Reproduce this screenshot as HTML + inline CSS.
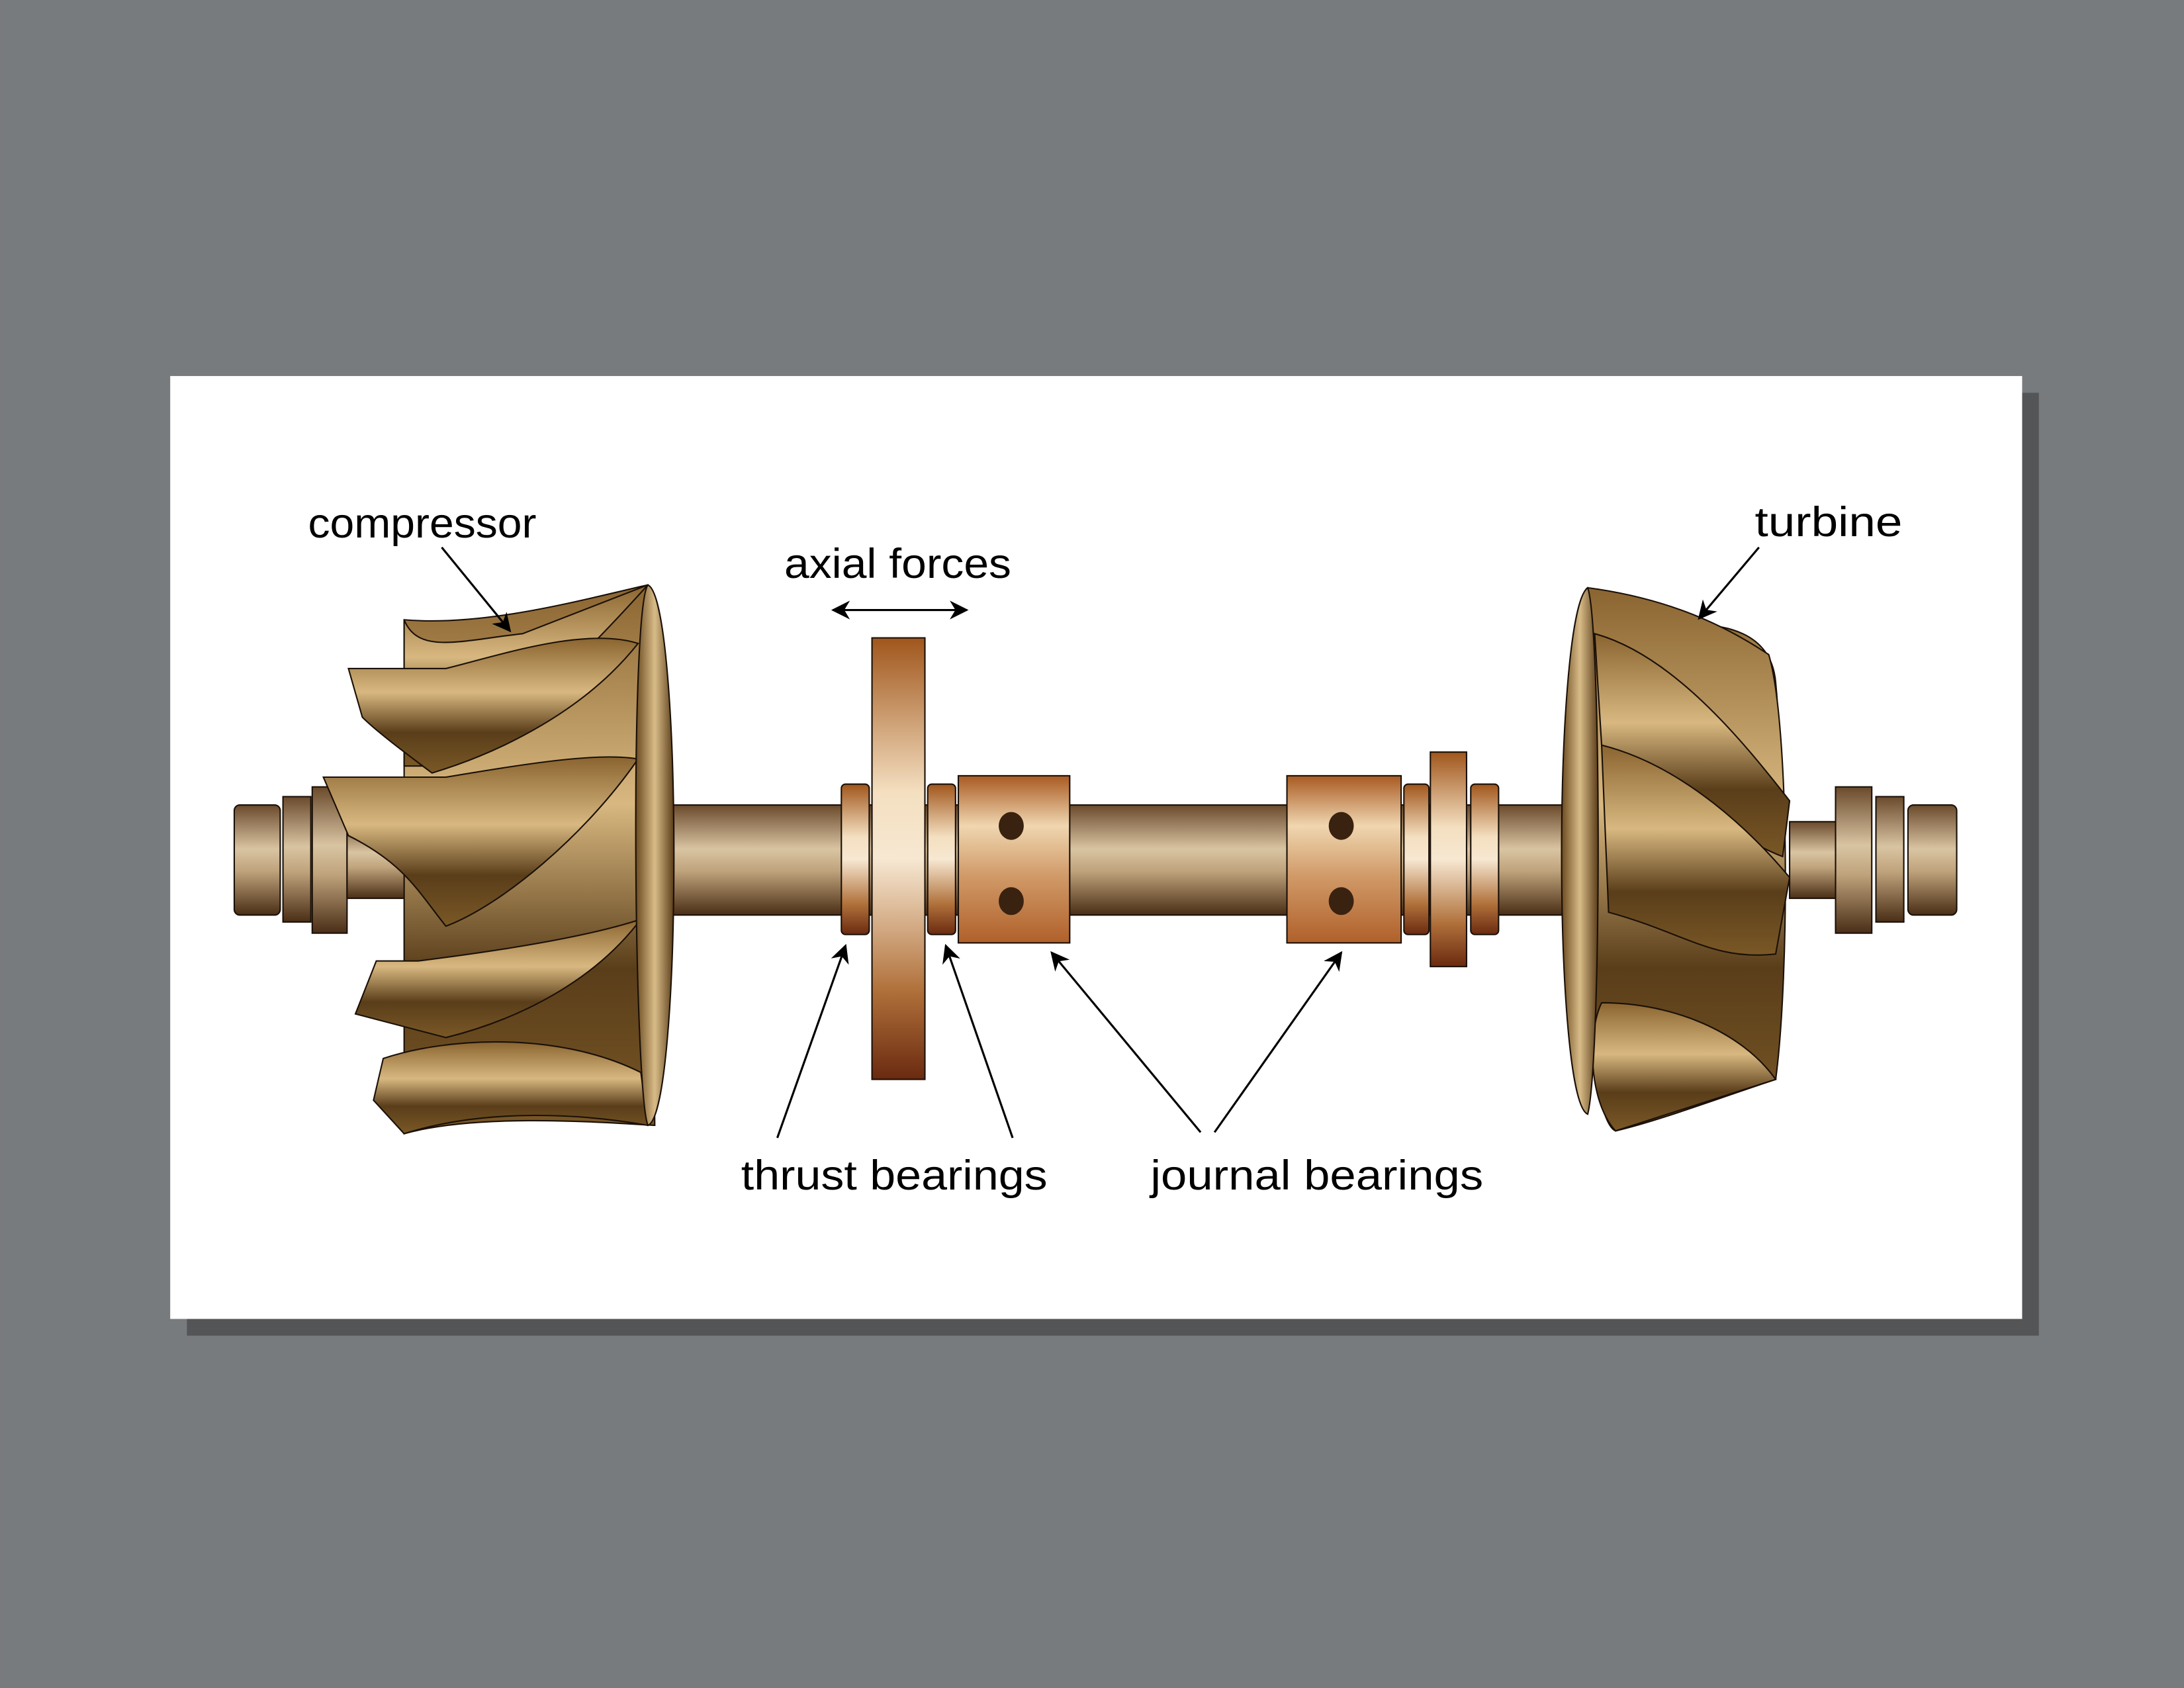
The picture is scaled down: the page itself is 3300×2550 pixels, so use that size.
<!DOCTYPE html>
<html><head><meta charset="utf-8"><style>html,body{margin:0;padding:0;background:#787b7e}svg{display:block}</style></head><body>
<svg width="3300" height="2550" viewBox="0 0 1568 1212" xmlns="http://www.w3.org/2000/svg" font-family="Liberation Sans, sans-serif">
<defs>
<linearGradient id="sh" x1="0" y1="0" x2="0" y2="1"><stop offset="0" stop-color="#6a4a2c"/><stop offset="0.4" stop-color="#d9c4a2"/><stop offset="0.6" stop-color="#bfa37c"/><stop offset="1" stop-color="#4a2e16"/></linearGradient>
<linearGradient id="cu" x1="0" y1="0" x2="0" y2="1"><stop offset="0" stop-color="#a0561c"/><stop offset="0.35" stop-color="#f4dfc0"/><stop offset="0.5" stop-color="#f7e8d2"/><stop offset="0.8" stop-color="#b0703a"/><stop offset="1" stop-color="#6a2a10"/></linearGradient>
<linearGradient id="jb" x1="0" y1="0" x2="0" y2="1"><stop offset="0" stop-color="#a85a22"/><stop offset="0.3" stop-color="#f0d6b0"/><stop offset="0.6" stop-color="#d09a68"/><stop offset="1" stop-color="#b0602a"/></linearGradient>
<linearGradient id="bl" x1="0" y1="0" x2="0" y2="1"><stop offset="0" stop-color="#8a6430"/><stop offset="0.4" stop-color="#d8b880"/><stop offset="0.7" stop-color="#5a3e1a"/><stop offset="1" stop-color="#7a5826"/></linearGradient>
<linearGradient id="bh" x1="0" y1="0" x2="1" y2="0"><stop offset="0" stop-color="#6a4a20"/><stop offset="0.5" stop-color="#d8bc88"/><stop offset="1" stop-color="#5a3c18"/></linearGradient>
<marker id="a" viewBox="0 0 10 10" refX="9" refY="5" markerWidth="9" markerHeight="9" orient="auto-start-reverse"><path d="M0,0 L10,5 L0,10 L3,5z" fill="#000"/></marker>
</defs>
<rect width="1568" height="1212" fill="#787b7e"/>
<rect x="134" y="282" width="1330" height="677" fill="#3a3c3e" opacity="0.6"/>
<rect x="122" y="270" width="1330" height="677" fill="#fff"/>
<g stroke="#1a1008" stroke-width="1">
<rect x="168" y="578" width="33" height="79" rx="4" fill="url(#sh)"/>
<rect x="203" y="572" width="20" height="90" fill="url(#sh)"/>
<rect x="224" y="565" width="25" height="105" fill="url(#sh)"/>
<rect x="249" y="590" width="45" height="55" fill="url(#sh)"/>
<rect x="466" y="578" width="674" height="79" fill="url(#sh)"/>
<path d="M290,445 C350,450 420,430 465,420 L470,808 C420,805 340,800 290,814 Z" fill="url(#bl)"/>
<path d="M290,445 C300,470 330,460 375,455 L465,420 C420,470 370,520 320,550 L290,550 Z" fill="url(#bl)"/>
<path d="M250,480 L320,480 C360,470 420,450 458,462 C420,510 360,540 310,555 C290,540 270,525 260,515 Z" fill="url(#bl)"/>
<path d="M232,558 L320,558 C380,548 430,540 458,545 C420,600 360,650 320,665 C300,640 290,620 250,600 Z" fill="url(#bl)"/>
<path d="M270,690 L300,690 C380,680 430,670 460,660 C430,700 380,730 320,745 L255,728 Z" fill="url(#bl)"/>
<path d="M275,760 C320,745 400,740 460,770 L465,808 C420,800 350,795 290,814 L268,790 Z" fill="url(#bl)"/>
<path d="M465,420 C490,430 490,800 465,808 C455,780 452,440 465,420 Z" fill="url(#bh)"/>
<rect x="604" y="563" width="20" height="108" rx="3" fill="url(#cu)"/>
<rect x="626" y="458" width="38" height="317" fill="url(#cu)"/>
<rect x="666" y="563" width="20" height="108" rx="3" fill="url(#cu)"/>
<rect x="688" y="557" width="80" height="120" fill="url(#jb)"/>
<rect x="924" y="557" width="82" height="120" fill="url(#jb)"/>
<rect x="1008" y="563" width="18" height="108" rx="3" fill="url(#cu)"/>
<rect x="1027" y="540" width="26" height="154" fill="url(#cu)"/>
<rect x="1056" y="563" width="20" height="108" rx="3" fill="url(#cu)"/>
<!-- turbine -->
<path d="M1200,450 C1240,445 1272,455 1275,490 C1278,520 1277,545 1272,560 L1240,560 L1200,470 Z" fill="url(#bl)"/>
<path d="M1225,690 L1270,682 C1280,700 1278,740 1275,775 L1230,775 Z" fill="url(#bl)"/>
<path d="M1140,422 C1200,430 1240,450 1270,470 C1285,520 1285,700 1275,775 C1230,790 1190,805 1160,812 C1130,800 1122,430 1140,422 Z" fill="url(#bl)"/>
<path d="M1145,455 C1200,470 1250,530 1285,575 L1280,615 C1240,600 1200,560 1150,535 Z" fill="url(#bl)"/>
<path d="M1150,535 C1210,550 1260,600 1285,630 L1275,685 C1230,690 1210,670 1155,655 Z" fill="url(#bl)"/>
<path d="M1150,720 C1200,720 1250,740 1275,775 L1160,812 C1140,790 1140,740 1150,720 Z" fill="url(#bl)"/>
<path d="M1140,422 C1115,440 1115,790 1140,800 C1150,760 1150,450 1140,422 Z" fill="url(#bh)"/>
<rect x="1285" y="590" width="35" height="55" fill="url(#sh)"/>
<rect x="1318" y="565" width="26" height="105" fill="url(#sh)"/>
<rect x="1347" y="572" width="20" height="90" fill="url(#sh)"/>
<rect x="1370" y="578" width="35" height="79" rx="4" fill="url(#sh)"/>
</g>
<g fill="#3a2210">
<ellipse cx="726" cy="593" rx="9" ry="10"/><ellipse cx="726" cy="647" rx="9" ry="10"/>
<ellipse cx="963" cy="593" rx="9" ry="10"/><ellipse cx="963" cy="647" rx="9" ry="10"/>
</g>
<g stroke="#000" stroke-width="1.5" fill="none" marker-end="url(#a)">
<line x1="317" y1="393" x2="366" y2="453"/>
<line x1="598" y1="438" x2="694" y2="438" marker-start="url(#a)"/>
<line x1="1263" y1="393" x2="1220" y2="444"/>
<line x1="558" y1="817" x2="607" y2="679"/>
<line x1="727" y1="817" x2="679" y2="679"/>
<line x1="862" y1="813" x2="755" y2="684"/>
<line x1="872" y1="813" x2="963" y2="684"/>
</g>
<g font-size="30" fill="#000">
<text x="221" y="386" textLength="164" lengthAdjust="spacingAndGlyphs">compressor</text>
<text x="563" y="415" textLength="163" lengthAdjust="spacingAndGlyphs">axial forces</text>
<text x="1260" y="385" textLength="106" lengthAdjust="spacingAndGlyphs">turbine</text>
<text x="532" y="854" textLength="220" lengthAdjust="spacingAndGlyphs">thrust bearings</text>
<text x="826" y="854" textLength="239" lengthAdjust="spacingAndGlyphs">journal bearings</text>
</g>
</svg>
</body></html>
